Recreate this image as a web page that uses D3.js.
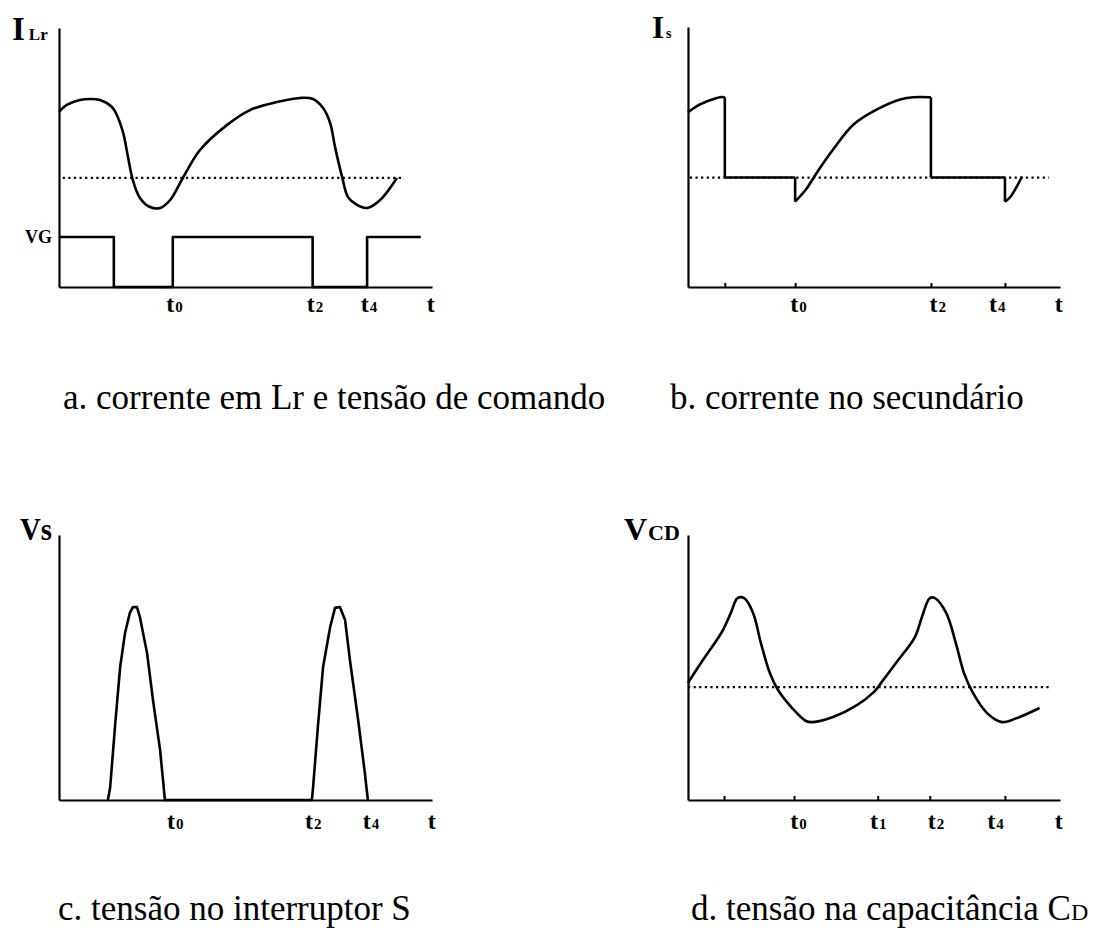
<!DOCTYPE html>
<html>
<head>
<meta charset="utf-8">
<script src="https://cdn.jsdelivr.net/npm/d3@7"></script>
<style>
  body { margin: 0; background: #fff; }
  svg { display: block; }
  .axis path.domain { stroke: #000; stroke-width: 2.2; }
  .axis line { stroke: #000; stroke-width: 2; }
  .wave { fill: none; stroke: #000; stroke-width: 2.6; stroke-linejoin: round; }
  .mean { fill: none; stroke: #000; stroke-width: 2.2; stroke-dasharray: 2.2 3.4; }
  .tlabel { font-family: "Liberation Serif", serif; font-weight: bold; fill: #000; }
  .caption { font-family: "Liberation Serif", serif; font-size: 35px; fill: #000; }
  .ylabel { font-family: "Liberation Serif", serif; font-weight: bold; fill: #000; }
</style>
</head>
<body>
<svg id="chart" width="1095" height="928"></svg>
<script>
// Time runs 0..100 along each horizontal axis; amplitudes are in arbitrary units 0..10.

// a. current in Lr
const ilrTime  = [0, 2.1, 5.6, 8.3, 11, 14.2, 15.5, 17.2, 18.5, 19.8, 21.7, 24.4, 27.1, 29.8, 33.2, 37.8, 45, 51.2, 58.4, 64.6, 68.1, 70.8, 72.7, 74, 75.9, 77.5, 79.9, 82.6, 86.1, 90.6];
const ilrValue = [6.76, 7.03, 7.22, 7.26, 7.22, 6.95, 6.64, 5.95, 5.02, 4.13, 3.44, 3.09, 3.05, 3.36, 4.21, 5.29, 6.25, 6.83, 7.14, 7.3, 7.26, 6.91, 6.33, 5.41, 4.25, 3.47, 3.17, 3.05, 3.36, 4.21];
const ilrMean  = 4.21;
const ilrMeanSpan = [1, 92];

// a. gate command VG (step levels, each held until the next instant)
const vgTime  = [0, 14.7, 30.5, 68, 82.6, 97];
const vgLevel = [1.93, 0, 1.93, 0, 1.93, 1.93];

// b. secondary current (a repeated instant marks a vertical jump)
const isTime  = [0, 2.3, 5.9, 8.6, 9.9, 9.9, 28.8, 28.8, 30.2, 31.7, 35.2, 39, 44.5, 50.8, 57.3, 60.5, 65.3, 65.3, 85.2, 85.2, 86.7, 89.8];
const isValue = [6.72, 6.95, 7.18, 7.3, 7.3, 4.21, 4.21, 3.28, 3.5, 3.75, 4.52, 5.29, 6.25, 6.83, 7.22, 7.3, 7.3, 4.21, 4.21, 3.28, 3.47, 4.25];
const isMean  = 4.21;
const isMeanSpan = [0.5, 97];

// c. voltage across switch S
const vsTime  = [13.1, 13.7, 15, 16.4, 17.7, 19, 19.8, 20.9, 21.7, 23.6, 25.2, 27.1, 28.4, 67.8, 68.1, 69.4, 70.8, 72.7, 74, 75.3, 76.7, 78, 80.2, 82, 82.8];
const vsValue = [0, 0.45, 2.75, 5.02, 6.3, 7.06, 7.28, 7.28, 6.9, 5.55, 3.77, 1.89, 0, 0, 0.45, 2.75, 5.02, 6.53, 7.25, 7.28, 6.79, 5.28, 3.02, 1.02, 0];

// d. voltage across capacitance CD
const vcdTime  = [0, 4, 9.1, 11.6, 13.3, 15.1, 17.5, 19.6, 22, 24.2, 28, 31.7, 33.5, 39, 45.4, 50, 51.9, 56.5, 61, 62.9, 65, 66.4, 69.4, 72, 74.2, 76.6, 80.4, 84.4, 88.4, 94.5];
const vcdValue = [4.42, 5.28, 6.34, 7.09, 7.62, 7.62, 7.06, 5.92, 4.79, 4.15, 3.47, 2.98, 2.94, 3.13, 3.58, 4.08, 4.42, 5.28, 6.15, 6.91, 7.62, 7.62, 7.06, 5.92, 4.79, 4.04, 3.28, 2.94, 3.09, 3.47];
const vcdMean  = 4.26;
const vcdMeanSpan = [0, 97];

// time-axis labels (letter + index) and their instants
const tickNamesA = [["t", "0"], ["t", "2"], ["t", "4"], ["t", ""]];
const tickTimesA = [30.8, 68.5, 83, 99.5];
const tickNamesB = [["t", "0"], ["t", "2"], ["t", "4"], ["t", ""]];
const tickTimesB = [29.6, 67, 83, 99.5];
const tickMarksB = [9.9, 28.8, 65.3, 85.2];
const tickNamesC = [["t", "0"], ["t", "2"], ["t", "4"], ["t", ""]];
const tickTimesC = [31, 68, 83.5, 99.8];
const tickNamesD = [["t", "0"], ["t", "1"], ["t", "2"], ["t", "4"], ["t", ""]];
const tickTimesD = [29.6, 51, 66.5, 82.5, 99.5];
const tickMarksD = [9.7, 28.5, 51, 65, 85.2];

const captions = [
  "a. corrente em Lr e tensão de comando",
  "b. corrente no secundário",
  "c. tensão no interruptor S",
  "d. tensão na capacitância C"
];

const svg = d3.select("#chart");

// frame of each plot: left/right of the time axis, top of the vertical axis, baseline
const frames = {
  a: { x0: 59,  x1: 432,  top: 28,  base: 287, labelDy: 25 },
  b: { x0: 688, x1: 1060, top: 27,  base: 287, labelDy: 25 },
  c: { x0: 59,  x1: 432,  top: 535, base: 800, labelDy: 29 },
  d: { x0: 688, x1: 1060, top: 535, base: 800, labelDy: 29 }
};

function scalesFor(f) {
  return {
    x: d3.scaleLinear().domain([0, 100]).range([f.x0, f.x1]),
    y: d3.scaleLinear().domain([0, 10]).range([f.base, f.top])
  };
}

function drawAxes(f, s, names, times, marks) {
  const g = svg.append("g");
  g.append("g").attr("class", "axis")
    .attr("transform", `translate(${f.x0},0)`)
    .call(d3.axisLeft(s.y).tickValues([]).tickSizeOuter(0));

  if (marks) {
    g.append("g").attr("class", "axis marks")
      .attr("transform", `translate(0,${f.base})`)
      .call(d3.axisBottom(s.x).tickValues(marks).tickSize(-4).tickSizeOuter(0).tickFormat(""))
      .select(".domain").remove();
  }

  const xa = g.append("g").attr("class", "axis")
    .attr("transform", `translate(0,${f.base})`)
    .call(d3.axisBottom(s.x).tickValues(times).tickSize(0).tickSizeOuter(0).tickFormat(""));

  xa.selectAll(".tick text").each(function (d, i) {
    const t = d3.select(this)
      .attr("class", "tlabel")
      .attr("y", f.labelDy).attr("dy", null)
      .attr("text-anchor", "middle")
      .attr("font-size", null);
    t.text(null);
    t.append("tspan").attr("font-size", 24).text(names[i][0]);
    if (names[i][1]) t.append("tspan").attr("font-size", 15).attr("dx", 1).text(names[i][1]);
  });
  xa.selectAll(".tick line").remove();
}

function drawMean(s, level, span) {
  svg.append("line").attr("class", "mean")
    .attr("x1", s.x(span[0])).attr("x2", s.x(span[1]))
    .attr("y1", s.y(level)).attr("y2", s.y(level));
}

// Smooth runs joined by straight vertical jumps wherever an instant repeats.
function drawWave(s, times, values, curve) {
  const pts = d3.zip(times, values);
  const line = d3.line().x(d => s.x(d[0])).y(d => s.y(d[1])).curve(curve);
  const runs = [];
  let cur = [pts[0]];
  for (let i = 1; i < pts.length; i++) {
    if (pts[i][0] === pts[i - 1][0]) {
      runs.push(cur);
      runs.push([pts[i - 1], pts[i]]);
      cur = [pts[i]];
    } else {
      cur.push(pts[i]);
    }
  }
  runs.push(cur);
  const d = runs.filter(r => r.length > 1).map(r => line(r)).join("");
  svg.append("path").attr("class", "wave").attr("d", d);
}

// ---- a. current in Lr and gate command
const sA = scalesFor(frames.a);
drawAxes(frames.a, sA, tickNamesA, tickTimesA, null);
drawMean(sA, ilrMean, ilrMeanSpan);
drawWave(sA, ilrTime, ilrValue, d3.curveCatmullRom.alpha(0.5));
const vgLine = d3.line().x(d => sA.x(d[0])).y(d => sA.y(d[1])).curve(d3.curveStepAfter);
svg.append("path").attr("class", "wave").attr("d", vgLine(d3.zip(vgTime, vgLevel)));

const labA = svg.append("text").attr("class", "ylabel").attr("x", 12).attr("y", 40);
labA.append("tspan").attr("font-size", 33).text("I");
labA.append("tspan").attr("font-size", 17).attr("dx", 4).text("Lr");
svg.append("text").attr("class", "ylabel").attr("x", 25).attr("y", 243)
  .attr("font-size", 19).attr("textLength", 27).attr("lengthAdjust", "spacingAndGlyphs").text("VG");

// ---- b. secondary current
const sB = scalesFor(frames.b);
drawAxes(frames.b, sB, tickNamesB, tickTimesB, tickMarksB);
drawMean(sB, isMean, isMeanSpan);
drawWave(sB, isTime, isValue, d3.curveCatmullRom.alpha(0.5));

const labB = svg.append("text").attr("class", "ylabel").attr("x", 652).attr("y", 38);
labB.append("tspan").attr("font-size", 31).text("I");
labB.append("tspan").attr("font-size", 14).attr("dx", 2).text("s");

// ---- c. voltage across switch S
const sC = scalesFor(frames.c);
drawAxes(frames.c, sC, tickNamesC, tickTimesC, null);
drawWave(sC, vsTime, vsValue, d3.curveLinear);

svg.append("text").attr("class", "ylabel").attr("x", 20).attr("y", 540)
  .attr("font-size", 32).attr("textLength", 32).attr("lengthAdjust", "spacingAndGlyphs").text("Vs");

// ---- d. voltage across capacitance CD
const sD = scalesFor(frames.d);
drawAxes(frames.d, sD, tickNamesD, tickTimesD, tickMarksD);
drawMean(sD, vcdMean, vcdMeanSpan);
drawWave(sD, vcdTime, vcdValue, d3.curveCatmullRom.alpha(0.5));

const labD = svg.append("text").attr("class", "ylabel").attr("x", 624).attr("y", 540);
labD.append("tspan").attr("font-size", 32).text("V");
labD.append("tspan").attr("font-size", 22).attr("dx", 1).text("CD");

// ---- captions
const capPos = [[63, 409], [670, 409], [58, 920], [691, 920]];
captions.forEach((c, i) => {
  const t = svg.append("text").attr("class", "caption")
    .attr("x", capPos[i][0]).attr("y", capPos[i][1]).text(c);
  if (i === 3) t.append("tspan").attr("font-size", 24).text("D");
});
</script>
</body>
</html>
